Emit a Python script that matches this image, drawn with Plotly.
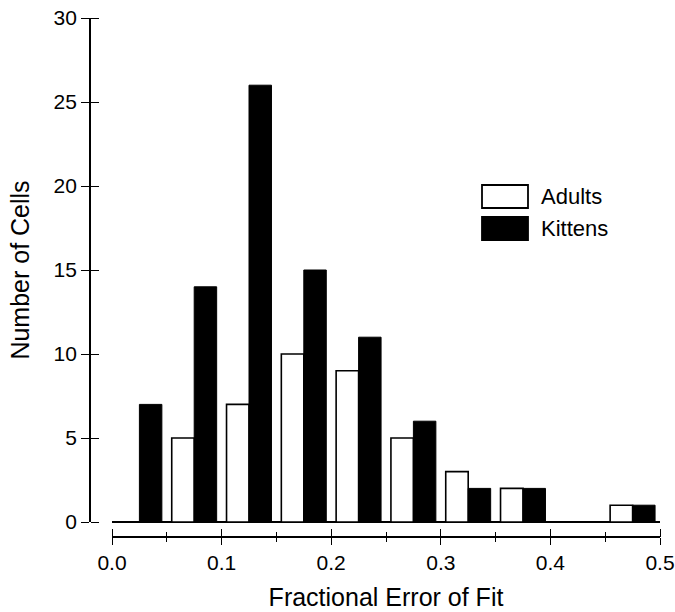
import plotly.graph_objects as go

bin_centers = [0.025, 0.075, 0.125, 0.175, 0.225, 0.275, 0.325, 0.375, 0.425, 0.475]
adults = [0, 5, 7, 10, 9, 5, 3, 2, 0, 1]
kittens = [7, 14, 26, 15, 11, 6, 2, 2, 0, 1]
x_ticks = [0.0, 0.1, 0.2, 0.3, 0.4, 0.5]
x_tick_labels = ["0.0", "0.1", "0.2", "0.3", "0.4", "0.5"]
y_ticks = [0, 5, 10, 15, 20, 25, 30]

W, H = 675, 612
L, R, T, B = 90, 15, 18, 75
pw, ph = W - L - R, H - T - B

def px_x(px):
    return (px - L) / pw

def px_y(py):
    return (H - B - py) / ph

FONT = "Liberation Sans, Arial, Helvetica, sans-serif"
xdom = [px_x(112), px_x(660)]
ydom = [px_y(522), 1.0]
xpos = px_y(537)
BAR_W = 0.0205

fig = go.Figure()
fig.add_trace(go.Bar(x=bin_centers, y=adults, name="Adults",
                     width=BAR_W, offset=-BAR_W,
                     marker=dict(color="white", line=dict(color="black", width=1.6)),
                     showlegend=False))
fig.add_trace(go.Bar(x=bin_centers, y=kittens, name="Kittens",
                     width=BAR_W, offset=0, xaxis="x2", yaxis="y2",
                     marker=dict(color="black", line=dict(color="black", width=1)),
                     showlegend=False))

fig.update_layout(
    width=W, height=H,
    margin=dict(l=L, r=R, t=T, b=B, autoexpand=False),
    paper_bgcolor="white", plot_bgcolor="rgba(0,0,0,0)",
    barmode="overlay",
    font=dict(family=FONT, color="black"),
    xaxis=dict(domain=xdom, range=[0, 0.5], anchor="free", position=xpos, automargin=False,
               tickvals=x_ticks, ticktext=x_tick_labels,
               ticks="outside", ticklen=7, tickwidth=1.3, tickcolor="black",
               minor=dict(dtick=0.05, tick0=0, ticks="outside", ticklen=4, tickwidth=1.2, tickcolor="black"),
               showline=True, linecolor="black", linewidth=1.5,
               showgrid=False, zeroline=False,
               tickfont=dict(size=21, family=FONT),
               title=dict(text="Fractional Error of Fit", font=dict(size=25, family=FONT), standoff=15)),
    xaxis2=dict(overlaying="x", side="top", range=[0, 0.5], anchor="free", position=xpos, automargin=False,
                tickvals=x_ticks, showticklabels=False,
                ticks="outside", ticklen=8, tickwidth=1.3, tickcolor="black",
                minor=dict(dtick=0.05, tick0=0, ticks="outside", ticklen=5, tickwidth=1.2, tickcolor="black"),
                showline=False, showgrid=False, zeroline=False),
    yaxis=dict(domain=ydom, range=[0, 30], anchor="free", position=0, automargin=False,
               tickvals=y_ticks,
               ticks="outside", ticklen=8, tickwidth=1.3, tickcolor="black",
               showline=True, linecolor="black", linewidth=1.8,
               showgrid=False, zeroline=True, zerolinecolor="black", zerolinewidth=1.5,
               tickfont=dict(size=21, family=FONT),
               title=dict(text="Number of Cells", font=dict(size=25, family=FONT), standoff=16)),
    yaxis2=dict(overlaying="y", side="right", range=[0, 30], anchor="free", position=0, automargin=False,
                tickvals=y_ticks, showticklabels=False,
                ticks="outside", ticklen=8, tickwidth=1.3, tickcolor="black",
                showline=False, showgrid=False, zeroline=False),
)

# legend drawn as boxes + labels
legend_items = [("Adults", "white"), ("Kittens", "black")]
box_tops = [185, 217]
for (label, fill), top in zip(legend_items, box_tops):
    fig.add_shape(type="rect", xref="paper", yref="paper",
                  x0=px_x(482), x1=px_x(528), y0=px_y(top + 23), y1=px_y(top),
                  line=dict(color="black", width=1.8), fillcolor=fill)
    fig.add_annotation(xref="paper", yref="paper", x=px_x(539), y=px_y(top + 11.5),
                       text=label, showarrow=False, xanchor="left", yanchor="middle",
                       font=dict(size=22, family=FONT, color="black"))

fig.write_html("out.html")
